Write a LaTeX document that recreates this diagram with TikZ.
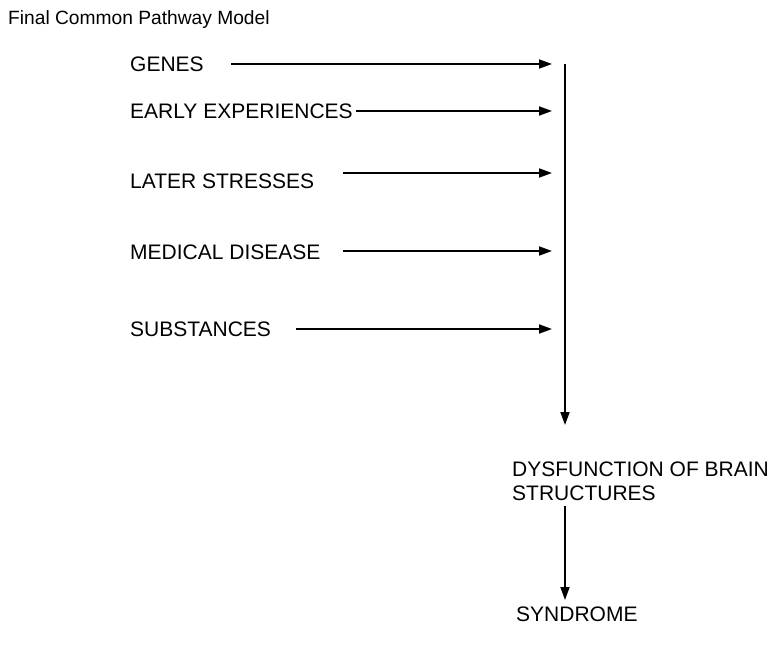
\documentclass[tikz,border=0pt]{standalone}
\usepackage{fontspec}
\setmainfont{Liberation Sans}
\usetikzlibrary{arrows.meta, positioning}

\tikzstyle{cause}  = [anchor=base west, inner sep=0pt,
                      font=\fontsize{21}{24}\selectfont]
\tikzstyle{result} = [anchor=north west, inner sep=0pt, align=left,
                      font=\fontsize{21}{24}\selectfont]
\tikzstyle{arrow}  = [-{Triangle[length=13pt, width=9pt]}, line width=1.8pt,
                      color=black]

\begin{document}
\begin{tikzpicture}[x=1pt, y=-1pt]
  \useasboundingbox (0,0) rectangle (771,652);

  %% Title
  \node[cause, font=\fontsize{19.2}{23}\selectfont] (title) at (8,25)
        {Final Common Pathway Model};

  %% Causes
  \node[cause] (genes)   at (130,72)  {GENES};
  \node[cause] (early)   at (130,119) {EARLY EXPERIENCES};
  \node[cause] (later)   at (130,189) {LATER STRESSES};
  \node[cause] (medical) at (130,260) {MEDICAL DISEASE};
  \node[cause] (subst)   at (130,336) {SUBSTANCES};

  %% Outcomes
  \node[result] (dys)   at (512,462) {DYSFUNCTION OF BRAIN\\STRUCTURES};
  \node[result] (synd)  at (516,607) {SYNDROME};

  %% Arrow ends
  \coordinate (genesA)   at (231,64);  \coordinate (genesB)   at (552,64);
  \coordinate (earlyA)   at (356,111); \coordinate (earlyB)   at (552,111);
  \coordinate (laterA)   at (343,173); \coordinate (laterB)   at (552,173);
  \coordinate (medicalA) at (343,251); \coordinate (medicalB) at (552,251);
  \coordinate (substA)   at (296,329); \coordinate (substB)   at (552,329);
  \coordinate (trunk)    at (565,64);
  \coordinate (dysIn)    at (565,425);
  \coordinate (dysOut)   at (565,506);
  \coordinate (syndIn)   at (565,600);

  %% Arrows
  \draw[arrow] (genesA) -- (genesB);
  \draw[arrow] (earlyA) -- (earlyB);
  \draw[arrow] (laterA) -- (laterB);
  \draw[arrow] (medicalA) -- (medicalB);
  \draw[arrow] (substA) -- (substB);
  \draw[arrow] (trunk) -- (dysIn);
  \draw[arrow] (dysOut) -- (syndIn);

\end{tikzpicture}
\end{document}
